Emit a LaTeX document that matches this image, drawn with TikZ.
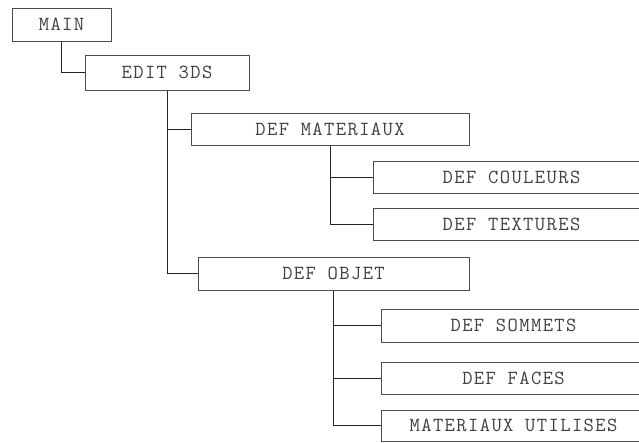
\documentclass[tikz,border=0pt]{standalone}
\usepackage{fontspec}
\newfontfamily\boxfont[LetterSpace=7]{Latin Modern Mono}
\usetikzlibrary{positioning}
\tikzset{
  fn/.style={draw=black!70, line width=1pt, minimum height=33pt, inner sep=0pt,
    text=black!75, font=\boxfont\fontsize{20}{22}\selectfont},
  link/.style={line width=1pt, draw=black!85},
}
\begin{document}
\begin{tikzpicture}[x=1pt, y=-1pt]
\clip (0,0) rectangle (639,442);
% top levels
\node[fn, minimum width=99pt] (main) at (61.5,24.5) {MAIN};
\node[fn, minimum width=164pt, minimum height=35pt] (edit) at (167,72.5) {EDIT 3DS};
\node[fn, minimum width=278pt, minimum height=32pt] (mater) at (330,129) {DEF MATERIAUX};
\node[fn, minimum width=271pt] (objet) at (333.5,273.5) {DEF OBJET};
% leaves (cut by the right edge)
\node[fn, minimum width=276pt, minimum height=32pt, anchor=west] (coul) at (373,177) {DEF COULEURS};
\node[fn, minimum width=276pt, minimum height=32pt, anchor=west] (text) at (373,224) {DEF TEXTURES};
\node[fn, minimum width=264pt, anchor=west] (somm) at (381,325.5) {DEF SOMMETS};
\node[fn, minimum width=264pt, minimum height=32pt, anchor=west] (faces) at (381,378) {DEF FACES};
\node[fn, minimum width=264pt, minimum height=31pt, anchor=west] (util) at (381,425.5) {MATERIAUX UTILISES};
% connectors
\draw[link] (main.south) |- (edit.west);
\draw[link] (edit.south) |- (mater.west);
\draw[link] (edit.south) |- (objet.west);
\draw[link] (mater.south) |- (coul.west);
\draw[link] (mater.south) |- (text.west);
\draw[link] (objet.south) |- (somm.west);
\draw[link] (objet.south) |- (faces.west);
\draw[link] (objet.south) |- (util.west);
\end{tikzpicture}
\end{document}
